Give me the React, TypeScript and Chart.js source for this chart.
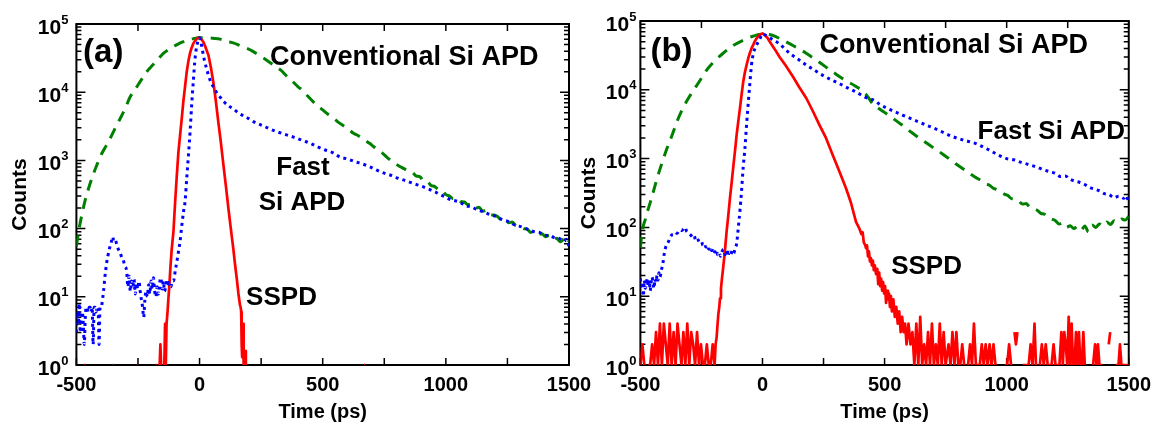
import React, { useEffect, useRef } from 'react';
import { Chart, registerables } from 'chart.js';

Chart.register(...registerables);

type Pt = [number, number | null];

// ---------- DATA (time in ps, counts) ----------
// Panel (a)
const conventionalA: Pt[] = [
  [-500, 55], [-490, 95], [-475, 178], [-460, 300], [-445, 450], [-432, 620], [-415, 890], [-400, 1200],
  [-380, 1620], [-363, 2100], [-340, 3100], [-320, 4250], [-300, 6000], [-282, 8500], [-260, 11200],
  [-240, 14500], [-214, 20000], [-190, 25000], [-170, 30000], [-147, 37000], [-120, 43500], [-100, 48000],
  [-80, 52500], [-66, 55000], [-45, 59000], [-30, 60500], [-15, 62000], [0, 63000], [20, 63000], [40, 62300],
  [60, 61500], [83, 60000], [110, 56000], [140, 52500], [165, 48000], [192, 44000], [215, 40000], [240, 35000],
  [273, 29500], [300, 25000], [330, 21000], [355, 17000], [381, 14000], [400, 12000], [420, 10500], [440, 8700],
  [462, 7200], [480, 6300], [500, 5500], [520, 4800], [544, 4200], [560, 3700], [580, 3300], [600, 2950],
  [625, 2500], [645, 2300], [670, 2000], [690, 1780], [706, 1600], [725, 1410], [740, 1300], [760, 1120],
  [774, 1020], [790, 930], [805, 850], [820, 790], [835, 740], [850, 690], [865, 660], [880, 590], [895, 575],
  [910, 500], [925, 490], [940, 430], [955, 415], [970, 370], [985, 360], [1000, 315], [1015, 300], [1030, 275],
  [1045, 280], [1060, 250], [1075, 245], [1090, 225], [1105, 228], [1120, 200], [1135, 205], [1150, 180],
  [1165, 185], [1180, 160], [1195, 158], [1210, 150], [1225, 135], [1240, 140], [1255, 122], [1270, 125],
  [1285, 110], [1300, 108], [1315, 100], [1330, 98], [1345, 88], [1360, 92], [1375, 82], [1390, 84], [1405, 76],
  [1420, 80], [1435, 70], [1450, 72], [1465, 64], [1480, 70], [1492, 60], [1500, 66],
];

const fastA: Pt[] = [
  [-500, 3], [-496, 6], [-492, 4], [-488, 8], [-484, 3], [-480, 5], [-476, 6], [-472, 4], [-468, 2], [-464, 5],
  [-460, 7], [-456, 7], [-452, 6], [-448, 7], [-444, 7], [-440, 6], [-436, 7], [-432, 2], [-428, 7], [-424, 7],
  [-420, 6], [-416, 7], [-412, 7], [-408, 2], [-404, 7], [-400, 7], [-396, 8], [-390, 12], [-384, 20], [-378, 30],
  [-372, 40], [-365, 52], [-359, 62], [-353, 76], [-348, 65], [-342, 68], [-336, 58], [-330, 50], [-323, 45],
  [-316, 38], [-310, 35], [-303, 28], [-296, 24], [-291, 14], [-286, 20], [-281, 12], [-276, 17], [-271, 14],
  [-266, 18], [-261, 11], [-256, 16], [-251, 13], [-246, 17], [-241, 12], [-236, 9], [-231, 7], [-227, 5],
  [-222, 9], [-217, 12], [-212, 10], [-207, 15], [-202, 11], [-197, 17], [-192, 13], [-187, 19], [-182, 12],
  [-177, 10], [-172, 14], [-167, 11], [-162, 16], [-157, 19], [-152, 13], [-147, 17], [-142, 12], [-137, 15],
  [-132, 18], [-127, 14], [-122, 16], [-116, 14], [-111, 17], [-106, 17], [-98, 25], [-92, 33], [-86, 45],
  [-79, 65], [-72, 112], [-65, 178], [-59, 245], [-52, 550], [-45, 1200], [-38, 2800], [-32, 6500], [-25, 15000],
  [-18, 32000], [-11, 48000], [-4, 59000], [0, 63000], [5, 55000], [10, 45000], [15, 35500], [20, 29000],
  [26, 24000], [31, 20500], [36, 17800], [46, 14000], [56, 12000], [70, 9800], [83, 8500], [100, 7200],
  [118, 6300], [137, 5700], [160, 4900], [190, 4300], [219, 3700], [250, 3300], [280, 2950], [300, 2750],
  [340, 2450], [381, 2200], [420, 1950], [450, 1780], [480, 1580], [510, 1420], [540, 1300], [570, 1120],
  [600, 1050], [630, 960], [660, 890], [690, 810], [720, 720], [750, 650], [780, 600], [810, 540], [840, 500],
  [870, 455], [900, 420], [930, 380], [960, 340], [990, 300], [1020, 265], [1040, 255], [1060, 240], [1080, 215],
  [1100, 210], [1120, 195], [1140, 182], [1160, 172], [1180, 160], [1200, 152], [1220, 140], [1240, 132],
  [1260, 125], [1280, 112], [1300, 108], [1320, 102], [1340, 95], [1360, 90], [1380, 88], [1400, 80], [1420, 79],
  [1440, 74], [1460, 72], [1480, 65], [1490, 70], [1500, 55],
];

const sspdA: Pt[] = [
  [-500, null], [-468, 1], [-464, 1], [-460, null], [-352, 1], [-348, 1], [-344, null], [-255, 1], [-251, 1],
  [-247, null], [-193, 1], [-189, 1], [-185, null], [-178, 1], [-174, 1], [-170, null], [-162, 1], [-159, 2],
  [-156, 1], [-153, null], [-143, 1], [-140, 4], [-137, 1], [-134, 4], [-130, 6], [-126, 10], [-122, 16],
  [-118, 28], [-113, 50], [-106, 90], [-99, 250], [-93, 550], [-86, 1300], [-79, 2350], [-72, 4200], [-66, 7200],
  [-59, 12000], [-52, 20000], [-45, 29000], [-39, 37000], [-32, 45000], [-25, 52000], [-18, 57000], [-10, 61000],
  [-4, 63000], [3, 62000], [10, 58000], [15, 55000], [22, 48000], [29, 41000], [36, 35000], [46, 23000],
  [56, 14000], [66, 7500], [76, 3700], [86, 1900], [97, 850], [107, 420], [117, 200], [127, 100], [137, 51],
  [144, 30], [151, 18.6], [158, 11], [164, 7.6], [167, 7], [169, 6], [171, 2], [173, 1.3], [175, 4], [177, 4],
  [179, 1], [181, null], [184, 1], [186, 1.6], [188, 1], [190, null], [668, 1], [672, 1], [676, null],
];

// Panel (b)
const conventionalB: Pt[] = [
  [-500, 50], [-495, 75], [-488, 105], [-480, 130], [-470, 175], [-459, 235], [-445, 350], [-432, 510],
  [-410, 900], [-391, 1410], [-370, 2200], [-350, 3470], [-325, 5500], [-296, 8300], [-260, 13000],
  [-228, 19500], [-195, 26500], [-161, 34000], [-120, 44000], [-79, 52500], [-40, 60000], [0, 64500],
  [40, 62000], [84, 52500], [130, 43000], [179, 34000], [230, 25500], [288, 18200], [335, 14000], [383, 11200],
  [425, 8500], [451, 6300], [475, 5400], [500, 4700], [532, 3900], [570, 3100], [614, 2350], [650, 1900],
  [695, 1480], [740, 1150], [790, 850], [840, 640], [870, 540], [900, 470], [915, 430], [930, 410], [945, 370],
  [960, 355], [975, 330], [990, 305], [1005, 290], [1020, 262], [1035, 258], [1050, 240], [1065, 218],
  [1080, 222], [1095, 195], [1110, 188], [1125, 178], [1140, 160], [1155, 155], [1170, 138], [1185, 132],
  [1200, 125], [1215, 112], [1230, 115], [1245, 100], [1260, 106], [1275, 96], [1290, 104], [1305, 92],
  [1320, 105], [1335, 86], [1350, 108], [1365, 100], [1380, 112], [1395, 104], [1410, 120], [1425, 110],
  [1440, 125], [1455, 118], [1470, 132], [1485, 128], [1500, 145],
];

const fastB: Pt[] = [
  [-500, 18], [-496, 14], [-492, 16], [-488, 10], [-484, 17], [-480, 13], [-476, 15], [-472, 18], [-468, 14],
  [-464, 17], [-460, 12], [-456, 16], [-452, 19], [-448, 15], [-444, 13], [-440, 18], [-436, 16], [-432, 20],
  [-428, 17], [-424, 22], [-420, 19], [-414, 24], [-408, 30], [-402, 42], [-396, 52], [-391, 57], [-385, 62],
  [-378, 72], [-371, 78], [-364, 80], [-357, 85], [-350, 82], [-343, 88], [-336, 92], [-330, 90], [-323, 96],
  [-317, 100], [-311, 88], [-305, 84], [-299, 80], [-292, 76], [-286, 72], [-280, 76], [-274, 66], [-268, 70],
  [-262, 64], [-256, 60], [-250, 62], [-244, 55], [-238, 58], [-232, 52], [-226, 55], [-220, 48], [-214, 52],
  [-208, 46], [-202, 50], [-196, 44], [-190, 48], [-184, 40], [-178, 43], [-172, 38], [-166, 44], [-160, 48],
  [-154, 40], [-148, 46], [-142, 38], [-136, 44], [-130, 40], [-124, 46], [-118, 42], [-112, 50], [-106, 58],
  [-99, 100], [-92, 180], [-86, 330], [-79, 750], [-72, 1400], [-65, 3200], [-59, 6000], [-52, 12000],
  [-45, 23000], [-38, 33000], [-31, 40000], [-24, 45000], [-17, 50000], [-10, 56000], [-4, 62000], [0, 65000],
  [10, 63000], [20, 60000], [30, 57000], [40, 54000], [57, 50000], [80, 43000], [111, 34000], [145, 28000],
  [179, 23000], [213, 19300], [247, 16200], [281, 14000], [315, 12300], [350, 10600], [383, 9300], [420, 7800],
  [465, 6800], [478, 6200], [520, 5200], [573, 4300], [620, 3650], [668, 3100], [720, 2600], [777, 2100],
  [825, 1850], [872, 1660], [920, 1380], [967, 1120], [1000, 1000], [1030, 960], [1060, 880], [1090, 820],
  [1120, 760], [1150, 690], [1180, 640], [1200, 610], [1220, 550], [1240, 560], [1260, 500], [1280, 470],
  [1300, 450], [1320, 420], [1340, 380], [1360, 360], [1380, 340], [1400, 310], [1420, 300], [1440, 270],
  [1460, 285], [1480, 265], [1490, 290], [1500, 220],
];

const sspdB: Pt[] = [
  [-500, 1], [-492, 2], [-484, 1], [-476, null], [-468, 1], [-460, 1], [-452, 2], [-444, 1], [-436, 3],
  [-428, 1], [-420, 4], [-412, 1], [-404, 4], [-396, 2], [-388, 1], [-380, 4], [-372, 1], [-364, 3], [-356, 1],
  [-348, 4], [-340, 2], [-332, 1], [-324, 3], [-316, 1], [-308, 4], [-300, 1], [-292, 3], [-284, 2], [-276, 1],
  [-268, 3], [-260, 1], [-252, 2], [-244, 1], [-236, 1], [-228, 2], [-220, 1], [-212, 1], [-204, 2], [-196, 1],
  [-192, 2], [-188, 2.5], [-185, 3.5], [-181, 5.4], [-177, 7], [-174, 9.3], [-170, 13], [-166, 18], [-161, 26],
  [-154, 45], [-147, 87], [-140, 150], [-133, 270], [-126, 460], [-119, 800], [-112, 1350], [-106, 2200],
  [-99, 3500], [-92, 5500], [-86, 8300], [-79, 13000], [-72, 18000], [-65, 23000], [-58, 29000], [-52, 34000],
  [-45, 40000], [-38, 45000], [-31, 51000], [-24, 56000], [-17, 60000], [-10, 63000], [-4, 65000], [0, 66000],
  [10, 62000], [20, 57000], [30, 50000], [50, 39000], [70, 30000], [95, 22500], [125, 15500], [150, 11000],
  [179, 7600], [205, 5000], [233, 3100], [260, 2000], [288, 1120], [315, 650], [342, 370], [362, 230],
  [383, 120], [396, 98], [405, 80], [410, 85], [415, 60], [420, 56], [424, 50], [428, 55], [432, 38], [436, 45],
  [440, 32], [444, 36], [448, 28], [452, 33], [456, 24], [460, 28], [465, 21], [470, 25], [474, 15], [478, 22],
  [482, 14], [486, 18], [490, 12], [494, 16], [498, 11], [502, 14], [506, 8], [510, 12], [514, 9], [518, 11],
  [522, 7], [526, 10], [530, 6], [536, 9], [542, 5], [548, 7], [554, 4], [560, 6], [566, 3], [572, 5], [578, 3],
  [584, 4], [590, 2], [598, 4], [606, 2], [614, 3], [622, 1], [630, 4], [638, 1], [646, 5], [654, 1], [662, 2],
  [670, 1], [678, 3], [686, 1], [694, 4], [702, 1], [710, 2], [718, 1], [726, 4], [734, 1], [742, 3], [750, 1],
  [762, 2], [770, 1], [778, 3], [786, 1], [794, 3], [802, 1], [810, 1],
  [818, 2], [826, 1], [834, null], [842, 1], [850, 2], [858, 1], [866, 4], [874, 1], [882, 1], [890, 1],
  [898, 2], [906, 1], [914, 2], [922, 1], [930, 2], [938, 1], [946, 2], [954, 1], [962, null], [970, 1],
  [978, null], [994, 1], [1002, 1], [1010, 2], [1018, 1], [1026, null], [1032, 3], [1038, 2], [1044, 3],
  [1050, null], [1066, 1], [1074, 1], [1082, 1], [1090, 1], [1098, 2], [1106, 1], [1114, 4], [1120, 1],
  [1128, null], [1136, 1], [1144, 2], [1152, 1], [1160, 2], [1168, 1], [1176, 1], [1184, 1], [1192, 2],
  [1200, 1], [1208, 1], [1216, 1], [1224, 3], [1230, 1], [1236, 3], [1242, 2], [1248, 1], [1254, 5], [1260, 1],
  [1266, 4], [1272, 1], [1278, 1], [1284, 3], [1290, 1], [1296, 3], [1302, 1], [1308, 1], [1314, 3], [1320, 1],
  [1326, null], [1332, 2], [1338, null], [1354, 1], [1362, 2], [1368, 1], [1374, 2], [1380, 1], [1386, 1],
  [1392, 1], [1400, null], [1418, 2], [1424, 3], [1430, null], [1446, 1], [1452, 1], [1458, 1], [1464, 2],
  [1470, 1], [1478, 1], [1486, 1], [1494, 1], [1500, 1],
];

// ---------- AXES ----------
const xMajorTicks = [-500, 0, 500, 1000, 1500];
const xMinorTicks = [-250, 250, 750, 1250];
const yDecades = [1, 10, 100, 1000, 10000, 100000];
const yMinorSteps = [2, 3, 4, 5, 6, 7, 8, 9];
const yTickBase = '10';
const xTitle = 'Time (ps)';
const yTitle = 'Counts';

// ---------- LAYOUT / STYLE ----------
const FONT = '"Liberation Sans", Arial, Helvetica, sans-serif';
const H = 435;

interface Note { text: string; t: number; c: number; align: CanvasTextAlign; size: number }
interface PanelCfg {
  left: number; width: number; padTop: number; padRight: number;
  yAxisWidth: number; yTickPad: number; countsX: number;
  conv: Pt[]; fast: Pt[]; sspd: Pt[]; notes: Note[];
}

const panels: PanelCfg[] = [
  {
    left: 0, width: 600, padTop: 24, padRight: 31, yAxisWidth: 76.4, yTickPad: 8, countsX: 20,
    conv: conventionalA, fast: fastA, sspd: sspdA,
    notes: [
      { text: '(a)', t: -473, c: 27700, align: 'left', size: 33 },
      { text: 'Conventional Si APD', t: 286, c: 25000, align: 'left', size: 27 },
      { text: 'Fast', t: 420, c: 611, align: 'center', size: 26 },
      { text: 'Si APD', t: 416, c: 187, align: 'center', size: 26 },
      { text: 'SSPD', t: 189, c: 7.6, align: 'left', size: 26 },
    ],
  },
  {
    left: 580, width: 579, padTop: 21, padRight: 28, yAxisWidth: 60.4, yTickPad: 4, countsX: 9,
    conv: conventionalB, fast: fastB, sspd: sspdB,
    notes: [
      { text: '(b)', t: -459, c: 25800, align: 'left', size: 33 },
      { text: 'Conventional Si APD', t: 233, c: 34800, align: 'left', size: 27 },
      { text: 'Fast Si APD', t: 881, c: 1930, align: 'left', size: 26 },
      { text: 'SSPD', t: 527, c: 21, align: 'left', size: 26 },
    ],
  },
];

const toXY = (pts: Pt[]) => pts.map(([x, y]) => ({ x, y }));

function Panel({ cfg }: { cfg: PanelCfg }) {
  const ref = useRef<HTMLCanvasElement>(null);
  useEffect(() => {
    const canvas = ref.current;
    if (!canvas) return;

    const framePlugin = {
      id: 'frameTicks',
      beforeDatasetsDraw(chart: any) {
        const { ctx, chartArea, scales } = chart;
        const { left, right, top, bottom } = chartArea;
        const xs = scales.x;
        const ys = scales.y;
        ctx.save();
        ctx.strokeStyle = '#000';
        ctx.lineWidth = 1.5;
        ctx.beginPath();
        for (const v of [...xMajorTicks, ...xMinorTicks]) {
          const px = xs.getPixelForValue(v);
          ctx.moveTo(px, bottom); ctx.lineTo(px, bottom - 7);
          ctx.moveTo(px, top); ctx.lineTo(px, top + 7);
        }
        for (const d of yDecades) {
          const py = ys.getPixelForValue(d);
          ctx.moveTo(left, py); ctx.lineTo(left + 9, py);
          ctx.moveTo(right, py); ctx.lineTo(right - 9, py);
          if (d < 100000) {
            for (const m of yMinorSteps) {
              const pm = ys.getPixelForValue(d * m);
              ctx.moveTo(left, pm); ctx.lineTo(left + 5, pm);
              ctx.moveTo(right, pm); ctx.lineTo(right - 5, pm);
            }
          }
        }
        ctx.stroke();
        ctx.lineWidth = 2;
        ctx.strokeRect(left, top, right - left, bottom - top);

        // y tick labels: 10 with superscript exponent
        ctx.fillStyle = '#000';
        ctx.textAlign = 'right';
        ctx.textBaseline = 'alphabetic';
        for (const d of yDecades) {
          const py = ys.getPixelForValue(d);
          const exp = String(Math.round(Math.log10(d)));
          ctx.font = `bold 13px ${FONT}`;
          const ew = ctx.measureText(exp).width;
          const xEnd = left - cfg.yTickPad;
          ctx.fillText(exp, xEnd, py - 0.5);
          ctx.font = `bold 21px ${FONT}`;
          ctx.fillText(yTickBase, xEnd - ew, py + 9.5);
        }
        ctx.restore();
      },
    };

    const textPlugin = {
      id: 'texts',
      afterDraw(chart: any) {
        const { ctx, chartArea, scales } = chart;
        ctx.save();
        ctx.fillStyle = '#000';
        ctx.textBaseline = 'alphabetic';
        for (const n of cfg.notes) {
          ctx.font = `bold ${n.size}px ${FONT}`;
          ctx.textAlign = n.align;
          ctx.fillText(n.text, scales.x.getPixelForValue(n.t), scales.y.getPixelForValue(n.c));
        }
        ctx.font = `bold 20px ${FONT}`;
        ctx.textAlign = 'center';
        ctx.fillText(xTitle, (chartArea.left + chartArea.right) / 2, 418);
        ctx.save();
        ctx.translate(cfg.countsX, (chartArea.top + chartArea.bottom) / 2);
        ctx.rotate(-Math.PI / 2);
        ctx.font = `bold 21px ${FONT}`;
        ctx.textBaseline = 'middle';
        ctx.textAlign = 'center';
        ctx.fillText(yTitle, 0, 0);
        ctx.restore();
        ctx.restore();
      },
    };

    const tickFont = { family: FONT, size: 20, weight: 'bold' as const };

    const chart = new Chart(canvas, {
      type: 'line',
      data: {
        datasets: [
          {
            label: 'Fast Si APD', data: toXY(cfg.fast) as any, borderColor: '#0000ff', borderWidth: 3,
            borderDash: [3, 4], pointRadius: 0, cubicInterpolationMode: 'monotone', order: 0,
          },
          {
            label: 'SSPD', data: toXY(cfg.sspd) as any, borderColor: '#ff0000', borderWidth: 2.7,
            pointRadius: 0, tension: 0, borderJoinStyle: 'round', order: 1,
          },
          {
            label: 'Conventional Si APD', data: toXY(cfg.conv) as any, borderColor: '#008000', borderWidth: 3,
            borderDash: [11, 8], pointRadius: 0, cubicInterpolationMode: 'monotone', order: 2,
          },
        ],
      },
      options: {
        animation: false,
        responsive: false,
        devicePixelRatio: 1,
        events: [],
        layout: { padding: { left: 0, top: cfg.padTop, right: cfg.padRight, bottom: 0 } },
        plugins: { legend: { display: false }, tooltip: { enabled: false } },
        scales: {
          x: {
            type: 'linear', min: -500, max: 1500,
            afterBuildTicks: (s: any) => { s.ticks = xMajorTicks.map((v) => ({ value: v })); },
            afterFit: (s: any) => { s.height = 70; },
            grid: { display: false, drawTicks: false },
            border: { display: false },
            ticks: {
              padding: 8, color: '#000', font: tickFont, autoSkip: false, maxRotation: 0,
              callback: (v: any) => String(v),
            },
          },
          y: {
            type: 'logarithmic', min: 1, max: 100000,
            afterBuildTicks: (s: any) => { s.ticks = yDecades.map((v) => ({ value: v })); },
            afterFit: (s: any) => { s.width = cfg.yAxisWidth; },
            grid: { display: false, drawTicks: false },
            border: { display: false },
            ticks: { display: false },
          },
        },
      } as any,
      plugins: [framePlugin, textPlugin],
    });
    return () => chart.destroy();
  }, [cfg]);

  return (
    <canvas
      ref={ref}
      width={cfg.width}
      height={H}
      style={{ position: 'absolute', left: cfg.left, top: 0, width: cfg.width, height: H }}
    />
  );
}

export default function App() {
  return (
    <div style={{ position: 'fixed', left: 0, top: 0, width: 1159, height: H, background: '#fff' }}>
      {panels.map((p, i) => (
        <Panel key={i} cfg={p} />
      ))}
    </div>
  );
}
